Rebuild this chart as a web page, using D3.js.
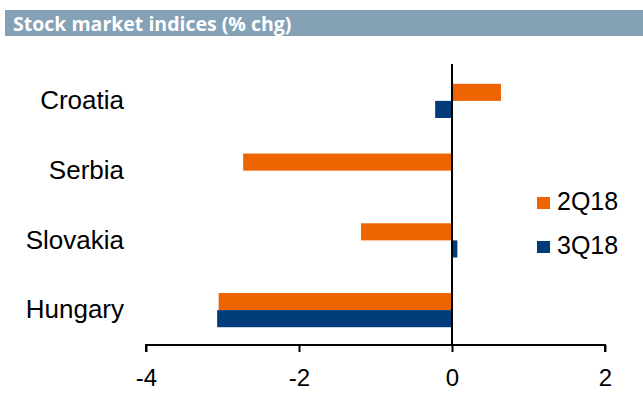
<!DOCTYPE html>
<html>
<head>
<meta charset="utf-8">
<script src="https://cdn.jsdelivr.net/npm/d3@7"></script>
<style>
  body { margin: 0; background: #fff; }
  #chart { width: 643px; height: 405px; }
</style>
</head>
<body>
<div id="chart"></div>
<script>
//Datos
const paises = ['Croatia', 'Serbia', 'Slovakia', 'Hungary'];
const tipos = ['2Q18', '3Q18'];
const valores2Q18 = [0.64, -2.73, -1.19, -3.05];
const valores3Q18 = [-0.22, -0.01, 0.07, -3.07];
const ticksX = [-4, -2, 0, 2];

//Colores fijos
const COLOR_NARANJA = '#EE6400',
COLOR_AZUL = '#003B7A',
COLOR_TITULO = '#84A1B6';

let data = paises.map(function(p, i) {
    return { pais: p, '2Q18': valores2Q18[i], '3Q18': valores3Q18[i] };
});

let svg = d3.select('#chart')
    .append('svg')
        .attr('width', 643)
        .attr('height', 405);

//Titulo
svg.append('rect')
    .attr('x', 5).attr('y', 10)
    .attr('width', 638).attr('height', 26)
    .attr('fill', COLOR_TITULO);

svg.append('text')
    .attr('x', 13).attr('y', 31)
    .attr('fill', '#fff')
    .style('font-family', 'Open Sans')
    .style('font-weight', 'bold')
    .style('font-size', '19.5px')
    .text('Stock market indices (% chg)');

// X
let x = d3.scaleLinear()
    .domain([-4, 2])
    .range([146, 605]);

// Y
let y = d3.scaleBand()
    .domain(paises)
    .range([66, 345])
    .paddingInner(0.51)
    .paddingOuter(0.255);

let ySubgroup = d3.scaleBand()
    .domain(tipos)
    .range([0, y.bandwidth()]);

let color = d3.scaleOrdinal()
    .domain(tipos)
    .range([COLOR_NARANJA, COLOR_AZUL]);

//Barras
svg.append('g')
    .selectAll('g')
    .data(data)
    .enter()
    .append('g')
    .attr('transform', function(d) { return 'translate(0,' + y(d.pais) + ')'; })
    .selectAll('rect')
    .data(function(d) { return tipos.map(function(key) { return {key: key, value: d[key]}; }); })
    .enter()
    .append('rect')
    .attr('y', function(d) { return ySubgroup(d.key); })
    .attr('height', ySubgroup.bandwidth())
    .attr('fill', function(d) { return color(d.key); })
    .attr('x', function(d) { return x(Math.min(0, d.value)); })
    .attr('width', function(d) { return Math.abs(x(d.value) - x(0)); });

//Linea del cero
svg.append('line')
    .attr('x1', x(0)).attr('x2', x(0))
    .attr('y1', 64).attr('y2', 345)
    .attr('stroke', '#000')
    .attr('stroke-width', 2);

//Eje X
let xAxis = svg.append('g')
    .attr('transform', 'translate(0,345)')
    .call(d3.axisBottom(x).tickValues(ticksX).tickSize(7).tickPadding(17).tickFormat(function(d) { return d; }));
xAxis.select('.domain').attr('stroke-width', 2).attr('d', 'M' + x(-4) + ',7V0H' + x(2) + 'V7');
xAxis.selectAll('.tick line').attr('stroke-width', 2);
xAxis.selectAll('text')
    .style('font-family', 'Liberation Sans, Arial')
    .style('font-size', '24px')
    .attr('fill', '#000');

//Eje Y
let yAxis = svg.append('g')
    .attr('transform', 'translate(124,0)')
    .call(d3.axisLeft(y).tickSize(0).tickPadding(0));
yAxis.select('.domain').remove();
yAxis.selectAll('text')
    .style('font-family', 'Liberation Sans, Arial')
    .style('font-size', '26px')
    .attr('fill', '#000');

//Leyenda
let leyenda = svg.append('g')
    .selectAll('g')
    .data(tipos)
    .enter()
    .append('g')
    .attr('transform', function(d, i) { return 'translate(537,' + (197 + i * 44) + ')'; });

leyenda.append('rect')
    .attr('width', 13).attr('height', 12)
    .attr('fill', function(d) { return color(d); });

leyenda.append('text')
    .attr('x', 20).attr('y', 13)
    .style('font-family', 'Liberation Sans, Arial')
    .style('font-size', '25px')
    .attr('fill', '#000')
    .text(function(d) { return d; });
</script>
</body>
</html>
